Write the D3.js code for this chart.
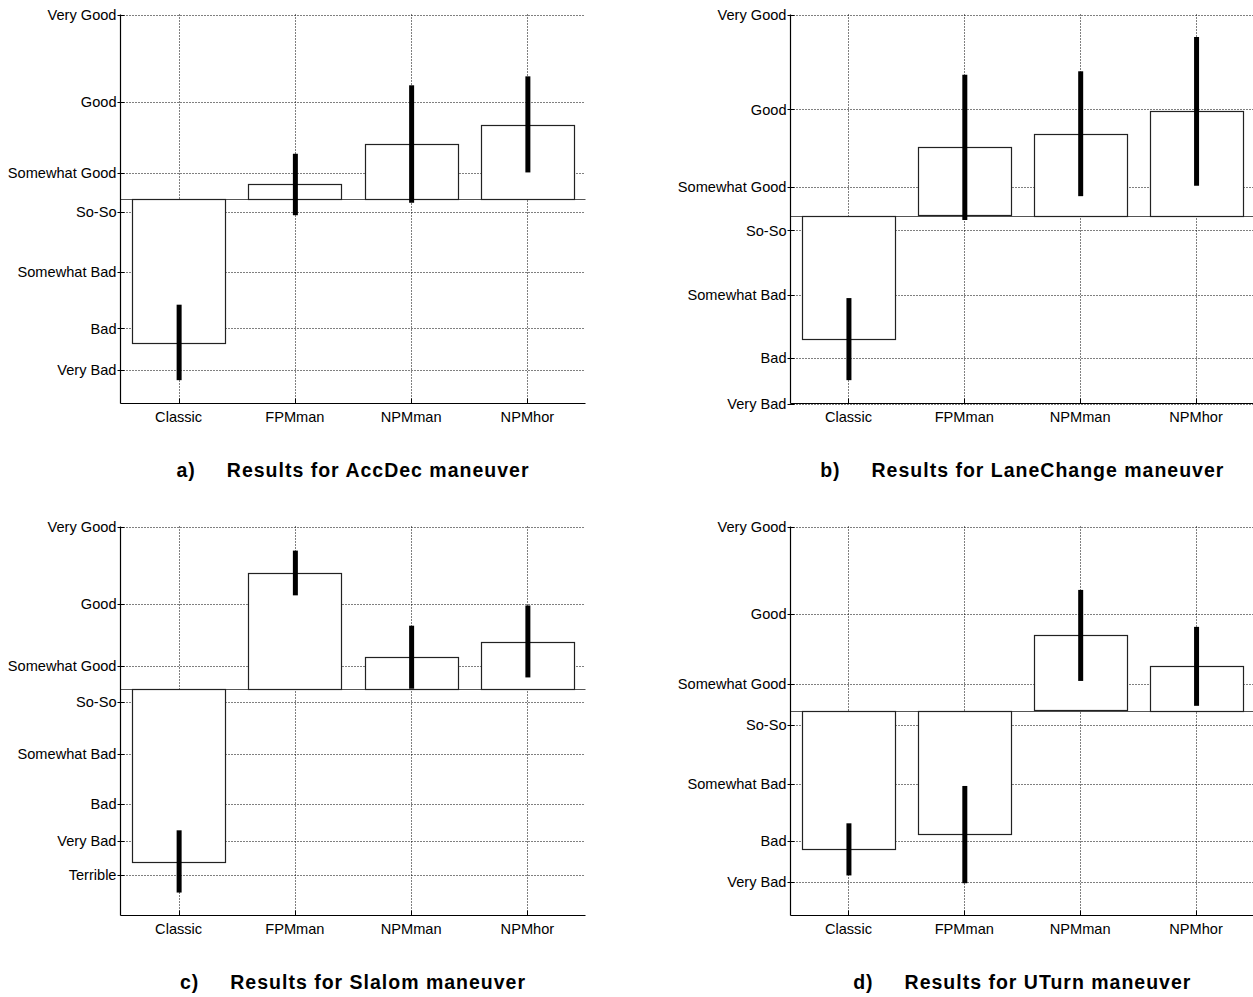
<!DOCTYPE html>
<html>
<head>
<meta charset="utf-8">
<script src="https://cdn.jsdelivr.net/npm/d3@7"></script>
<style>
  body { margin: 0; background: #fff; }
  svg { display: block; }
  text { font-family: "Liberation Sans", Arial, sans-serif; fill: #000; }
</style>
</head>
<body>
<div id="chart"></div>
<script>
// categories and titles
var categories = ["Classic", "FPMman", "NPMman", "NPMhor"];
var panelLetters = ["a)", "b)", "c)", "d)"];
var panelTitles = ["Results for AccDec maneuver", "Results for LaneChange maneuver",
                   "Results for Slalom maneuver", "Results for UTurn maneuver"];

// rating labels on the y axis
var ratingLabels = ["Very Good", "Good", "Somewhat Good", "So-So", "Somewhat Bad", "Bad", "Very Bad"];
var ratingLabelsSlalom = ["Very Good", "Good", "Somewhat Good", "So-So", "Somewhat Bad", "Bad", "Very Bad", "Terrible"];

// where each rating sits on the 0-100 score axis
var ticksAccDec = [100, 77.5, 59.3, 49.2, 33.9, 19.3, 8.7];
var ticksLaneChange = [100, 75.6, 55.6, 44.5, 27.8, 11.7, 0];
var ticksSlalom = [100, 80.1, 64.1, 54.9, 41.6, 28.6, 19.2, 10.5];
var ticksUTurn = [100, 77.5, 59.5, 49.0, 33.9, 19.2, 8.7];

// bars start from this score
var baselines = [52.6, 48.3, 58.3, 52.6];

// mean score and error range per category
var meanAccDec = [15.6, 56.5, 66.7, 71.7];
var lowAccDec = [6.0, 48.4, 51.6, 59.4];
var highAccDec = [25.4, 64.2, 81.8, 84.1];

var meanLaneChange = [16.6, 65.9, 69.4, 75.2];
var lowLaneChange = [6.0, 47.2, 53.3, 56.0];
var highLaneChange = [27.1, 84.5, 85.4, 94.2];

var meanSlalom = [13.9, 88.1, 66.4, 70.4];
var lowSlalom = [5.9, 82.3, 58.3, 61.2];
var highSlalom = [21.9, 93.8, 74.5, 79.7];

var meanUTurn = [17.0, 20.9, 72.0, 64.1];
var lowUTurn = [10.3, 8.3, 60.3, 53.9];
var highUTurn = [23.7, 33.3, 83.7, 74.2];

var panels = [
    {ticks: ticksAccDec, labels: ratingLabels, mean: meanAccDec, low: lowAccDec, high: highAccDec},
    {ticks: ticksLaneChange, labels: ratingLabels, mean: meanLaneChange, low: lowLaneChange, high: highLaneChange},
    {ticks: ticksSlalom, labels: ratingLabelsSlalom, mean: meanSlalom, low: lowSlalom, high: highSlalom},
    {ticks: ticksUTurn, labels: ratingLabels, mean: meanUTurn, low: lowUTurn, high: highUTurn}
];

var width = 1253, height = 997;
var svg = d3.select("#chart").append("svg")
    .attr("width", width)
    .attr("height", height);

// plot boxes: [left, right, top, bottom]
var boxes = [
    [120.5, 585.5, 14.5, 403.5],
    [790.5, 1254, 14.5, 403.5],
    [120.5, 585.5, 526.5, 915.5],
    [790.5, 1254, 526.5, 915.5]
];

panels.forEach(function (p, i) {
    var b = boxes[i];
    var left = b[0], right = b[1], top = b[2], bottom = b[3];
    var g = svg.append("g");

    var x = d3.scaleBand()
        .domain(categories)
        .range([left, right])
        .paddingInner(0.2)
        .paddingOuter(0.1);
    var y = d3.scaleLinear().domain([0, 100]).range([bottom, top]);

    var rows = categories.map(function (c, k) {
        return {cat: c, mean: p.mean[k], low: p.low[k], high: p.high[k]};
    });
    var base = baselines[i];

    // dotted grid
    g.selectAll(".hgrid").data(p.ticks).enter().append("line")
        .attr("x1", left).attr("x2", right - 0.5)
        .attr("y1", function (d) { return Math.round(y(d)) + 0.5; })
        .attr("y2", function (d) { return Math.round(y(d)) + 0.5; })
        .attr("stroke", "#000").attr("stroke-width", 1)
        .attr("stroke-dasharray", "1,2");
    g.selectAll(".vgrid").data(categories).enter().append("line")
        .attr("x1", function (d) { return Math.round(x(d) + x.bandwidth() / 2) + 0.5; })
        .attr("x2", function (d) { return Math.round(x(d) + x.bandwidth() / 2) + 0.5; })
        .attr("y1", top).attr("y2", bottom)
        .attr("stroke", "#000").attr("stroke-width", 1)
        .attr("stroke-dasharray", "1,2");

    // baseline
    g.append("line")
        .attr("x1", left).attr("x2", right)
        .attr("y1", Math.round(y(base)) + 0.5).attr("y2", Math.round(y(base)) + 0.5)
        .attr("stroke", "#555").attr("stroke-width", 1.2);

    // bars
    g.selectAll(".bar").data(rows).enter().append("rect")
        .attr("x", function (d) { return Math.round(x(d.cat)) + 0.5; })
        .attr("width", Math.round(x.bandwidth()))
        .attr("y", function (d) { return Math.round(y(Math.max(d.mean, base))) + 0.5; })
        .attr("height", function (d) { return Math.round(Math.abs(y(d.mean) - y(base))); })
        .attr("fill", "#fff")
        .attr("stroke", "#222").attr("stroke-width", 1.2);

    // error bars
    g.selectAll(".err").data(rows).enter().append("line")
        .attr("x1", function (d) { return x(d.cat) + x.bandwidth() / 2 + 0.5; })
        .attr("x2", function (d) { return x(d.cat) + x.bandwidth() / 2 + 0.5; })
        .attr("y1", function (d) { return y(d.high); })
        .attr("y2", function (d) { return y(d.low); })
        .attr("stroke", "#000").attr("stroke-width", 5);

    // axes
    g.append("line")
        .attr("x1", left).attr("x2", left).attr("y1", top).attr("y2", bottom)
        .attr("stroke", "#000").attr("stroke-width", 1.2);
    g.append("line")
        .attr("x1", left).attr("x2", right).attr("y1", bottom).attr("y2", bottom)
        .attr("stroke", "#000").attr("stroke-width", 1.2);

    // ticks
    g.selectAll(".ytick").data(p.ticks).enter().append("line")
        .attr("x1", left - 3).attr("x2", left + 4)
        .attr("y1", function (d) { return Math.round(y(d)) + 0.5; })
        .attr("y2", function (d) { return Math.round(y(d)) + 0.5; })
        .attr("stroke", "#000");
    g.selectAll(".xtick").data(categories).enter().append("line")
        .attr("x1", function (d) { return Math.round(x(d) + x.bandwidth() / 2) + 0.5; })
        .attr("x2", function (d) { return Math.round(x(d) + x.bandwidth() / 2) + 0.5; })
        .attr("y1", bottom).attr("y2", bottom - 5)
        .attr("stroke", "#000");

    // tick labels
    g.selectAll(".ylab").data(p.ticks).enter().append("text")
        .attr("x", left - 4)
        .attr("y", function (d) { return y(d); })
        .attr("dy", "0.35em")
        .attr("text-anchor", "end")
        .style("font-size", "14.6px")
        .text(function (d, k) { return p.labels[k]; });
    g.selectAll(".xlab").data(categories).enter().append("text")
        .attr("x", function (d) { return x(d) + x.bandwidth() / 2; })
        .attr("y", bottom + 18.5)
        .attr("text-anchor", "middle")
        .style("font-size", "14.6px")
        .text(function (d) { return d; });

    // panel title
    var t = g.append("text")
        .attr("x", (left + right) / 2)
        .attr("y", bottom + 73)
        .attr("text-anchor", "middle")
        .style("font-size", "19.5px")
        .style("font-weight", "bold")
        .style("letter-spacing", "1px");
    t.append("tspan").text(panelLetters[i]);
    t.append("tspan").attr("dx", 31).text(panelTitles[i]);
});
</script>
</body>
</html>
